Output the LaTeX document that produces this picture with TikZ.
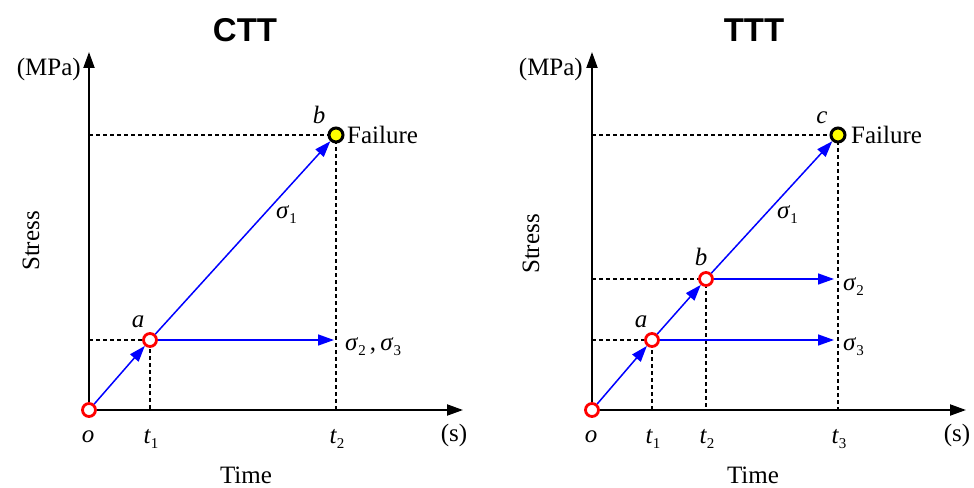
\documentclass[tikz,border=0pt]{standalone}
\usepackage{fontspec}
\setmainfont{Liberation Serif}
\newfontfamily\titlefont{Liberation Sans}
\usetikzlibrary{arrows.meta}
\newcommand\ssub[1]{\raisebox{-0.45ex}{\fontsize{15}{15}\selectfont #1}}
\newcommand\sgm[1]{\textit{σ}\ssub{#1}}
\newcommand\tsub[1]{\textit{t}\ssub{#1}}
\definecolor{pblue}{RGB}{0,0,255}
\definecolor{pred}{RGB}{255,0,0}
\definecolor{pyel}{RGB}{255,255,0}
\begin{document}
\begin{tikzpicture}[x=1pt,y=-1pt,
  lbl/.style={font=\fontsize{25}{25}\selectfont, inner sep=0pt},
  ttl/.style={font=\titlefont\bfseries\fontsize{33}{33}\selectfont, inner sep=0pt},
  axis/.style={line width=2pt, -{Triangle[length=16pt,width=11pt]}},
  dsh/.style={line width=1.4pt, dash pattern=on 4pt off 3pt},
  flow/.style={line width=1.5pt, pblue, -{Triangle[length=16pt,width=11pt]}},
  pt/.style={circle, draw=pred, fill=white, line width=2.8pt, minimum size=13pt, inner sep=0pt},
  fail/.style={circle, draw=black, fill=pyel, line width=3pt, minimum size=14pt, inner sep=0pt}]
\useasboundingbox (0,0) rectangle (974,487);
% ================= CTT =================
\coordinate (O1) at (89,410);
\coordinate (Y1) at (89,52);
\coordinate (X1) at (463,410);
\coordinate (A1) at (150,340);
\coordinate (B1) at (336,135);
\coordinate (T1a) at (150,410);
\coordinate (T1b) at (336,410);
\coordinate (H1a) at (89,340);
\coordinate (H1b) at (89,135);
\coordinate (E1) at (334,340);
\draw[dsh] (H1b) -- (B1) -- (T1b);
\draw[dsh] (H1a) -- (A1) -- (T1a);
\draw[axis] (O1) -- (Y1);
\draw[axis] (O1) -- (X1);
\node[pt] (o1) at (O1) {};
\node[pt] (a1) at (A1) {};
\node[fail] (b1) at (B1) {};
\draw[flow] (o1) -- (a1);
\draw[flow] (a1) -- (b1);
\draw[flow] (a1) -- (E1);
\node[ttl] (ctt) at (245,30) {CTT};
\node[lbl, anchor=east] (mpa1) at (81,69) {(MPa)};
\node[lbl, anchor=base west] (fl1) at (347,143) {Failure};
\node[lbl, anchor=base] (la1) at (138,327) {\textit{a}};
\node[lbl, anchor=base] (lb1) at (319,123) {\textit{b}};
\node[lbl, anchor=base west] (s11) at (276,218) {\sgm{1}};
\node[lbl, anchor=base west] (s231) at (345,350) {\sgm{2}\,,\,\sgm{3}};
\node[lbl, anchor=base] (lo1) at (88,442) {\textit{o}};
\node[lbl, anchor=base] (lt11) at (151,443) {\tsub{1}};
\node[lbl, anchor=base] (lt21) at (337,443) {\tsub{2}};
\node[lbl, anchor=base] (ls1) at (454,441) {(s)};
\node[lbl, anchor=base] (tm1) at (246,483) {Time};
\node[lbl, rotate=90] (st1) at (31,241) {Stress};
% ================= TTT =================
\coordinate (O2) at (592,410);
\coordinate (Y2) at (592,52);
\coordinate (X2) at (966,410);
\coordinate (A2) at (652,340);
\coordinate (B2) at (706,279);
\coordinate (C2) at (838,135);
\coordinate (T2a) at (652,410);
\coordinate (T2b) at (706,410);
\coordinate (T2c) at (838,410);
\coordinate (H2a) at (592,340);
\coordinate (H2b) at (592,279);
\coordinate (H2c) at (592,135);
\coordinate (E2a) at (834,340);
\coordinate (E2b) at (834,279);
\draw[dsh] (H2c) -- (C2) -- (T2c);
\draw[dsh] (H2b) -- (B2) -- (T2b);
\draw[dsh] (H2a) -- (A2) -- (T2a);
\draw[axis] (O2) -- (Y2);
\draw[axis] (O2) -- (X2);
\node[pt] (o2) at (O2) {};
\node[pt] (a2) at (A2) {};
\node[pt] (b2) at (B2) {};
\node[fail] (c2) at (C2) {};
\draw[flow] (o2) -- (a2);
\draw[flow] (a2) -- (b2);
\draw[flow] (b2) -- (c2);
\draw[flow] (a2) -- (E2a);
\draw[flow] (b2) -- (E2b);
\node[ttl] (ttt) at (754,30) {TTT};
\node[lbl, anchor=east] (mpa2) at (583,69) {(MPa)};
\node[lbl, anchor=base west] (fl2) at (851,143) {Failure};
\node[lbl, anchor=base] (la2) at (641,327) {\textit{a}};
\node[lbl, anchor=base] (lb2) at (701,265) {\textit{b}};
\node[lbl, anchor=base] (lc2) at (822,123) {\textit{c}};
\node[lbl, anchor=base west] (s12) at (777,218) {\sgm{1}};
\node[lbl, anchor=base west] (s22) at (843,290) {\sgm{2}};
\node[lbl, anchor=base west] (s32) at (843,350) {\sgm{3}};
\node[lbl, anchor=base] (lo2) at (591,442) {\textit{o}};
\node[lbl, anchor=base] (lt12) at (653,443) {\tsub{1}};
\node[lbl, anchor=base] (lt22) at (707,443) {\tsub{2}};
\node[lbl, anchor=base] (lt32) at (839,443) {\tsub{3}};
\node[lbl, anchor=base] (ls2) at (957,441) {(s)};
\node[lbl, anchor=base] (tm2) at (753,483) {Time};
\node[lbl, rotate=90] (st2) at (531,244) {Stress};
\end{tikzpicture}
\end{document}
